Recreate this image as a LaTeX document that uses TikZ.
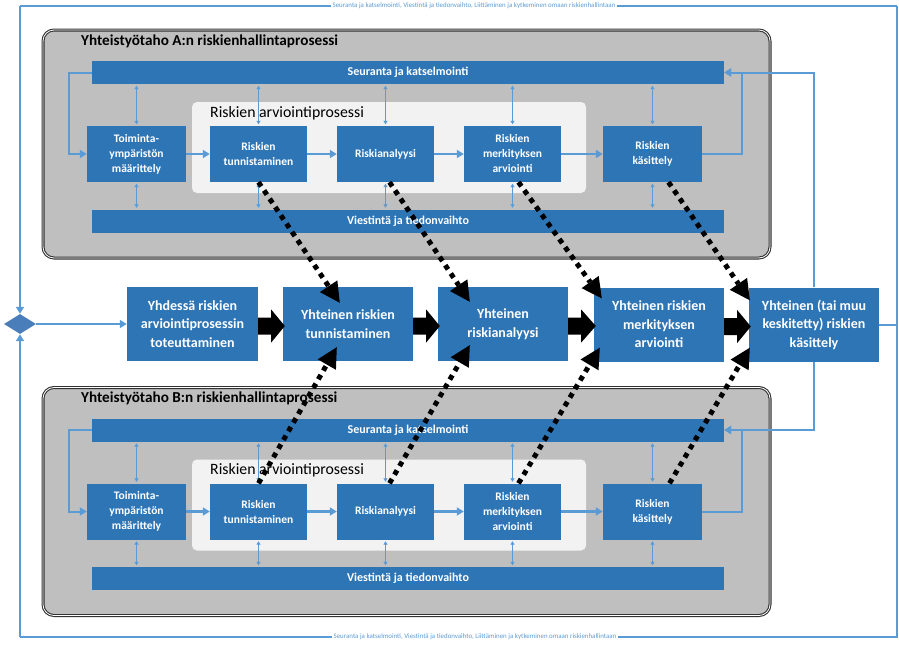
\documentclass[tikz,border=0pt]{standalone}
\usepackage{fontspec}
\setmainfont{Carlito}
\usetikzlibrary{arrows.meta,shapes.geometric,calc}
\definecolor{boxblue}{HTML}{2E75B6}
\definecolor{lineblue}{HTML}{5B9BD5}
\definecolor{panelgray}{HTML}{BFBFBF}
\definecolor{innergray}{HTML}{F2F2F2}
\definecolor{diamblue}{HTML}{4A7EBB}
\tikzset{
  panelbox/.style={fill=panelgray, draw=black!80, line width=1.1pt, double=white, double distance=0.8pt, rounded corners=11pt, minimum width=727, minimum height=228, inner sep=0},
  ptitle/.style={anchor=west, font=\fontsize{15.2}{17}\selectfont\bfseries, inner sep=0},
  ititle/.style={anchor=west, font=\fontsize{15.8}{17}\selectfont, inner sep=0},
  bar/.style={fill=boxblue, text=white, font=\fontsize{12}{14}\selectfont\bfseries, minimum width=632, minimum height=23, inner sep=0},
  innerbox/.style={fill=innergray, rounded corners=5pt, minimum width=394, minimum height=91, inner sep=0},
  sbox/.style={fill=boxblue, text=white, font=\fontsize{11.5}{15}\selectfont\bfseries, align=center, minimum width=97, minimum height=56, inner sep=0},
  bbox/.style={fill=boxblue, text=white, font=\fontsize{14}{18.5}\selectfont\bfseries, align=center, minimum width=130, minimum height=74, inner sep=0},
  flow/.style={lineblue, line width=2.5pt, -{Triangle[length=7pt,width=8pt]}},
  dbl/.style={lineblue, line width=0.9pt, {Triangle[length=3.5pt,width=4pt]}-{Triangle[length=3.5pt,width=4pt]}, shorten <=1.5pt, shorten >=1.5pt},
  loopline/.style={lineblue, line width=2pt, -{Triangle[length=7pt,width=8pt]}},
  frameline/.style={lineblue, line width=2pt},
  frametext/.style={fill=white, text=lineblue, font=\fontsize{6.9}{7.5}\selectfont, inner sep=1.5pt},
  dotarr/.style={line width=5pt, dash pattern=on 5pt off 5pt, -{Triangle[length=20pt,width=21pt,line width=0pt]}}
}
\newcommand\riskpanel[3]{%
\begin{scope}[shift={(0,#2)}]
\node[panelbox] (#1panel) at (406.5,144) {};
\node[ptitle] (#1title) at (81,41) {Yhteistyötaho #3:n riskienhallintaprosessi};
\node[bar] (#1seur) at (408,72.5) {Seuranta ja katselmointi};
\node[bar] (#1viest) at (408,221) {Viestintä ja tiedonvaihto};
\node[innerbox] (#1inner) at (389,147.5) {};
\node[ititle] (#1ititle) at (210,113) {Riskien arviointiprosessi};
\node[sbox, minimum width=99] (#1toim) at (136.5,154) {Toiminta-\\ympäristön\\määrittely};
\node[sbox] (#1tun) at (258.5,154) {Riskien\\tunnistaminen};
\node[sbox] (#1ana) at (385.5,154) {Riskianalyysi};
\node[sbox] (#1mer) at (512.5,154) {Riskien\\merkityksen\\arviointi};
\node[sbox, minimum width=99] (#1kas) at (652.5,154) {Riskien\\käsittely};
\coordinate (#1ll) at (69,72.5);
\coordinate (#1rr) at (742,72.5);
\end{scope}
\draw[flow] (#1toim) -- (#1tun);
\draw[flow] (#1tun) -- (#1ana);
\draw[flow] (#1ana) -- (#1mer);
\draw[flow] (#1mer) -- (#1kas);
\draw[loopline] (#1seur.west) -- (#1ll) |- (#1toim.west);
\draw[loopline] (#1kas.east) -| (#1rr) -- (#1seur.east);
\foreach \b in {toim,tun,ana,mer,kas}{
  \draw[dbl] (#1\b.north |- #1seur.south) -- (#1\b.north);
  \draw[dbl] (#1\b.south) -- (#1\b.south |- #1viest.north);
}
}
\newcommand\blockarrow[2]{%
\fill[black] ($(#1.east)+(0,-6.5)$) -- ($(#1.east)+(13,-6.5)$) -- ($(#1.east)+(13,-14.5)$) -- ($(#2.west |- #1.east)+(2,2)$) -- ($(#1.east)+(13,18.5)$) -- ($(#1.east)+(13,10.5)$) -- ($(#1.east)+(0,10.5)$) -- cycle;}
\begin{document}
\begin{tikzpicture}[x=1pt,y=-1pt]
\useasboundingbox (0,0) rectangle (899,646);
% outer frame
\coordinate (ftl) at (20,6);
\coordinate (ftr) at (897,6);
\coordinate (fbr) at (897,637);
\coordinate (fbl) at (20,637);
\node[diamond, fill=diamblue, minimum width=32, minimum height=20, inner sep=0] (diam) at (20,324) {};
\draw[frameline] (ftr) -- (ftl);
\draw[frameline] (ftr) -- (fbr) -- (fbl);
\draw[frameline, -{Triangle[length=7pt,width=8pt]}] (ftl) -- (diam.north);
\draw[frameline, -{Triangle[length=7pt,width=8pt]}] (fbl) -- (diam.south);
\node[frametext] (ttop) at (474,6) {Seuranta ja katselmointi, Viestintä ja tiedonvaihto, Liittäminen ja kytkeminen omaan riskienhallintaan};
\node[frametext] (tbot) at (475,637) {Seuranta ja katselmointi, Viestintä ja tiedonvaihto, Liittäminen ja kytkeminen omaan riskienhallintaan};
% panels
\riskpanel{A}{0}{A}
\riskpanel{B}{357.5}{B}
% middle row
\node[bbox, minimum width=131] (m1) at (192.5,324) {Yhdessä riskien\\arviointiprosessin\\toteuttaminen};
\node[bbox] (m2) at (348,324) {Yhteinen riskien\\tunnistaminen};
\node[bbox] (m3) at (503,324) {Yhteinen\\riskianalyysi};
\node[bbox] (m4) at (659,324.5) {Yhteinen riskien\\merkityksen\\arviointi};
\node[bbox] (m5) at (814,324.5) {Yhteinen (tai muu\\keskitetty) riskien\\käsittely};
\draw[frameline, -{Triangle[length=7pt,width=8pt]}] (diam.east) -- (diam.east -| m1.west);
\blockarrow{m1}{m2}
\blockarrow{m2}{m3}
\blockarrow{m3}{m4}
\blockarrow{m4}{m5}
\draw[frameline] (m5.east) -- (m5.east -| fbr);
\draw[loopline] (m5.north) |- (Aseur.east);
\draw[loopline] (m5.south) |- (Bseur.east);
% dotted arrows
\draw[dotarr] (Atun.south) -- ($(m2.north west)+(57,16)$);
\draw[dotarr] ($(Aana.south)+(4,0)$) -- ($(m3.north west)+(32,15)$);
\draw[dotarr] ($(Amer.south)+(6,0)$) -- ($(m4.north west)+(8,11)$);
\draw[dotarr] ($(Akas.south)+(16,0)$) -- ($(m5.north west)+(1,13)$);
\draw[dotarr] (Btun.north) -- ($(m2.south west)+(54,-14)$);
\draw[dotarr] ($(Bana.north)+(4,0)$) -- ($(m3.south west)+(32,-16)$);
\draw[dotarr] ($(Bmer.north)+(6,0)$) -- ($(m4.south west)+(6,-14)$);
\draw[dotarr] ($(Bkas.north)+(17,0)$) -- ($(m5.south west)+(1,-14)$);
\end{tikzpicture}
\end{document}
